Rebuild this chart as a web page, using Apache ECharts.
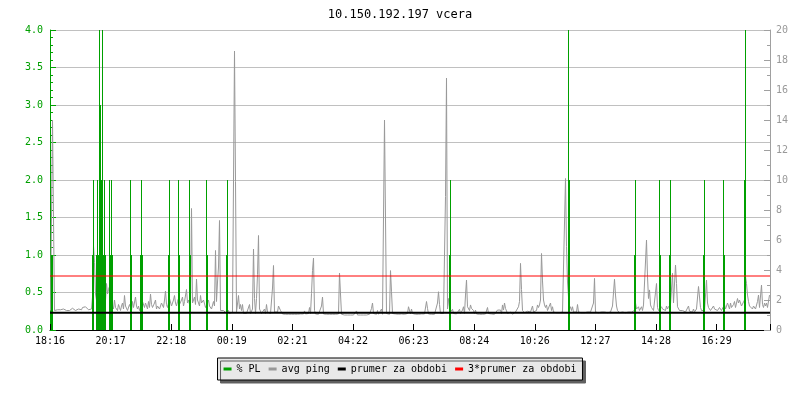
<!DOCTYPE html>
<html><head><meta charset="utf-8">
<script src="https://cdn.jsdelivr.net/npm/echarts@6/dist/echarts.min.js"></script>
<style>html,body{margin:0;padding:0;background:#fff}#c{width:800px;height:400px}</style>
</head><body><div id="c"></div>
<script>
const titleText = '10.150.192.197 vcera';
const timeLabels = ['18:16','20:17','22:18','00:19','02:21','04:22','06:23','08:24','10:26','12:27','14:28','16:29'];
const tickStepMin = 121.2;      // minutes between time labels
const spanMin = 1440;           // whole day shown
const pingStepMin = 2;          // minutes between ping samples
// avg ping in ms (right axis), one value every 2 minutes from 18:16
const pingMs = [
1.3,1.3,14.0,7.4,1.3,1.25,1.3,1.35,1.25,1.3,1.35,1.3,1.3,1.4,1.45,1.3,1.3,1.25,1.35,1.3,
1.3,1.25,1.45,1.4,1.35,1.3,1.3,1.25,1.4,1.3,1.3,1.35,1.5,1.6,1.6,1.55,1.55,1.45,1.35,1.3,
1.3,1.4,2.2,5.6,4.5,2.4,2.0,1.6,1.9,2.4,2.7,1.8,2.2,2.6,2.9,2.0,3.1,2.4,2.7,2.9,
2.8,1.9,1.6,1.4,2.0,1.5,1.4,1.3,1.7,1.5,1.3,1.6,1.8,1.4,2.3,1.6,1.5,1.3,1.4,1.7,
1.5,1.3,1.9,1.5,1.4,2.2,1.6,1.4,1.6,1.3,1.5,2.7,1.9,1.9,1.5,1.8,1.6,1.4,1.9,1.5,
2.4,1.7,1.5,1.4,1.8,2.0,1.4,1.6,1.7,1.4,1.5,1.8,1.9,1.5,2.0,2.6,1.7,1.5,1.8,2.1,
2.0,1.6,1.7,2.0,2.3,1.8,1.6,1.9,2.1,1.7,1.8,2.0,2.2,1.6,1.9,2.0,2.7,1.8,2.0,1.7,
1.9,8.1,1.8,2.0,2.2,1.7,3.4,2.0,1.9,1.6,2.3,1.8,1.8,2.0,2.1,1.5,1.6,1.8,2.0,1.6,
1.7,1.4,1.5,1.9,1.6,5.3,1.9,3.2,4.2,7.3,1.3,1.4,1.2,1.3,1.4,1.2,1.1,1.2,1.3,1.1,
1.1,1.07,1.2,1.1,18.6,9.9,1.2,1.3,2.3,1.4,1.7,1.3,1.7,1.1,1.07,1.07,1.1,1.07,1.2,1.7,
1.1,1.07,1.4,5.4,2.1,1.1,2.1,3.7,6.3,1.4,1.3,1.1,1.2,1.1,1.4,1.1,1.7,1.2,1.2,1.1,
1.1,1.2,2.8,4.3,1.2,1.1,1.1,1.2,1.6,1.6,1.3,1.2,1.07,1.07,1.07,1.05,1.07,1.07,1.05,1.07,
1.07,1.05,1.07,1.07,1.05,1.05,1.07,1.05,1.05,1.07,1.07,1.05,1.07,1.07,1.27,1.07,1.05,1.07,1.1,1.5,
1.1,2.44,3.96,4.8,1.3,1.07,1.05,1.07,1.05,1.07,1.05,1.6,2.2,1.07,1.05,1.07,1.05,1.05,1.07,1.05,
1.05,1.07,1.05,1.05,1.07,1.05,1.07,1.05,1.07,3.8,2.4,1.05,1.02,1.0,1.0,1.02,1.0,1.0,1.02,1.0,
1.0,1.0,1.02,1.0,1.0,1.02,1.27,1.0,1.0,1.02,1.0,1.0,1.02,1.0,1.0,1.02,1.0,1.02,1.0,1.05,
1.05,1.44,1.8,1.1,1.05,1.07,1.05,1.3,1.05,1.07,1.05,1.4,1.05,1.07,14.0,7.4,1.1,1.05,1.07,1.05,
3.96,2.55,1.1,1.05,1.05,1.07,1.0,1.05,1.05,1.07,1.05,1.07,1.05,1.07,1.05,1.07,1.05,1.1,1.55,1.55,
1.07,1.4,1.1,1.05,1.07,1.05,1.07,1.05,1.05,1.07,1.05,1.07,1.1,1.05,1.07,1.05,1.9,1.44,1.07,1.05,
1.07,1.05,1.05,1.07,1.05,1.07,1.1,1.8,2.55,1.7,1.1,1.07,1.05,1.1,1.07,8.9,16.8,1.4,2.1,1.55,
1.2,1.1,1.38,1.1,1.07,1.1,1.07,1.05,1.1,1.38,1.1,1.07,1.33,1.55,1.1,2.33,3.33,1.55,1.55,1.3,
1.67,1.44,1.44,1.3,1.1,1.33,1.07,1.05,1.07,1.05,1.07,1.05,1.05,1.07,1.05,1.07,1.1,1.5,1.1,1.07,
1.05,1.07,1.05,1.07,1.05,1.07,1.1,1.33,1.33,1.3,1.33,1.1,1.67,1.33,1.8,1.44,1.55,1.1,1.07,1.1,
1.2,1.07,1.05,1.07,1.1,1.2,1.07,1.1,1.55,1.9,4.44,2.7,1.3,1.2,1.15,1.2,1.15,1.25,1.2,1.15,
1.2,1.3,1.6,1.2,1.15,1.2,1.3,1.67,1.5,1.67,2.0,5.1,3.27,2.0,1.67,1.5,1.67,1.3,1.2,1.3,
1.8,1.3,1.55,1.2,1.15,1.2,1.15,1.2,1.25,1.15,1.2,1.15,1.2,1.15,1.3,10.1,5.56,3.2,2.2,1.4,
1.55,1.3,1.55,1.2,1.15,1.3,1.2,1.7,1.2,1.15,1.2,1.15,1.2,1.25,1.15,1.2,1.15,1.2,1.15,1.2,
1.2,1.15,1.2,1.8,3.44,1.2,1.15,1.2,1.15,1.2,1.15,1.2,1.25,1.15,1.2,1.15,1.2,1.15,1.25,1.2,
1.2,1.3,1.6,1.6,3.38,2.33,1.6,1.3,1.2,1.15,1.2,1.15,1.2,1.15,1.2,1.15,1.2,1.15,1.2,1.25,
1.33,1.2,1.25,1.2,1.3,1.8,1.4,1.3,1.55,1.3,1.4,1.55,1.3,1.67,1.8,1.67,6.0,3.56,2.1,2.67,
1.67,1.5,1.5,1.3,1.4,1.3,3.1,1.5,1.3,1.4,1.3,1.55,1.4,1.3,1.5,1.3,1.6,1.4,1.55,1.6,
1.7,1.6,3.78,1.8,1.7,4.33,3.1,1.55,1.6,1.3,1.4,1.2,1.3,1.2,1.25,1.2,1.3,1.2,1.6,1.25,
1.25,1.3,1.2,1.4,1.2,1.3,1.4,1.5,2.9,2.2,1.5,1.3,1.3,1.4,1.3,1.4,3.33,1.8,1.5,1.4,
1.3,1.4,1.3,1.6,1.4,1.3,1.4,1.3,1.4,1.5,1.4,1.3,1.3,1.4,1.7,1.4,1.5,1.8,1.6,1.4,
1.8,1.5,1.5,1.7,1.9,1.5,1.6,2.1,1.8,2.0,1.8,1.6,1.5,1.7,2.0,3.56,3.1,2.33,1.9,1.6,
1.6,1.5,1.4,1.6,1.5,1.4,1.3,1.9,2.33,1.5,1.6,3.0,1.7,1.5,1.8,1.6,1.8,1.5,1.6,2.33
];
// packet loss events: minutes after 18:16 and loss in %
const plMinutes = [2,4,84,86,92,94,96,98,100,102,104,106,108,110,118,120,122,124,160,162,180,182,184,236,238,256,258,278,280,312,314,352,354,798,800,1036,1038,1168,1170,1218,1220,1238,1240,1306,1308,1346,1348,1388,1390];
const plPercent = [1.0,1.0,1.0,2.0,1.0,2.0,1.0,4.0,3.0,2.0,4.0,1.0,2.0,1.0,2.0,1.0,2.0,1.0,2.0,1.0,1.0,2.0,1.0,1.0,2.0,2.0,1.0,2.0,1.0,2.0,1.0,1.0,2.0,1.0,2.0,4.0,2.0,1.0,2.0,2.0,1.0,1.0,2.0,1.0,2.0,2.0,1.0,2.0,4.0];
const avgPing = 1.15;
const avgPing3 = 3.6;

const FONT = 'DejaVu Sans Mono';
const GREEN = '#00a000', GREY = '#999999';
const chart = echarts.init(document.getElementById('c'), null, {renderer:'canvas'});
chart.setOption({
  animation: false,
  backgroundColor: '#ffffff',
  title: { text: titleText, left: 'center', top: 4,
    textStyle: { fontFamily: FONT, fontSize: 12, fontWeight: 'normal', color: '#000' } },
  legend: {
    left: 'center', top: 358, icon: 'rect', itemWidth: 8, itemHeight: 3, itemGap: 8,
    padding: [6, 6], backgroundColor: '#e8e8e8', borderColor: '#000', borderWidth: 1,
    shadowColor: '#606060', shadowOffsetX: 3, shadowOffsetY: 3, shadowBlur: 0,
    textStyle: { fontFamily: FONT, fontSize: 10, color: '#000' },
    data: ['% PL', 'avg ping', 'prumer za obdobi', '3*prumer za obdobi']
  },
  grid: { left: 50, right: 30, top: 30, bottom: 70 },
  xAxis: {
    type: 'value', min: 0, max: spanMin, interval: tickStepMin,
    axisLine: { lineStyle: { color: '#000', width: 1 } },
    axisTick: { inside: true, length: 6, lineStyle: { color: '#000' } },
    splitLine: { show: false },
    axisLabel: { color: '#000', fontFamily: FONT, fontSize: 10, margin: 6,
      formatter: v => { const k = Math.round(v / tickStepMin); return (Math.abs(k * tickStepMin - v) < 0.01 && timeLabels[k]) || ''; } }
  },
  yAxis: [{
    type: 'value', min: 0, max: 4, interval: 0.5, position: 'left',
    axisLine: { show: true, lineStyle: { color: GREEN } },
    axisTick: { show: true, inside: true, length: 6, lineStyle: { color: GREEN } },
    minorTick: { show: true, splitNumber: 5, length: 3, lineStyle: { color: GREEN } },
    splitLine: { show: true, lineStyle: { color: '#c0c0c0' } },
    axisLabel: { color: GREEN, fontFamily: FONT, fontSize: 10, margin: 7, formatter: v => v.toFixed(1) }
  }, {
    type: 'value', min: 0, max: 20, interval: 2, position: 'right',
    axisLine: { show: true, lineStyle: { color: '#a0a0a0' } },
    axisTick: { show: true, inside: true, length: 6, lineStyle: { color: '#a0a0a0' } },
    minorTick: { show: true, splitNumber: 2, length: 3, lineStyle: { color: '#a0a0a0' } },
    splitLine: { show: false },
    axisLabel: { color: GREY, fontFamily: FONT, fontSize: 10, margin: 6 }
  }],
  series: [
    { name: 'avg ping', type: 'line', yAxisIndex: 1, z: 2,
      data: pingMs.map((v, i) => [i * pingStepMin + 1, v]),
      symbol: 'none', showSymbol: false, sampling: null,
      lineStyle: { color: GREY, width: 1 }, itemStyle: { color: GREY } },
    { name: '% PL', type: 'custom', yAxisIndex: 0, z: 3,
      data: plMinutes.map((m, i) => [m, plPercent[i]]),
      encode: { x: 0, y: 1 },
      itemStyle: { color: GREEN },
      renderItem: (params, api) => {
        const p0 = api.coord([api.value(0), 0]);
        const p1 = api.coord([api.value(0), api.value(1)]);
        const w = api.size([pingStepMin, 0])[0];
        return { type: 'rect', shape: { x: p0[0], y: p1[1], width: w, height: p0[1] - p1[1] },
          style: { fill: GREEN } };
      } },
    { name: 'prumer za obdobi', type: 'line', yAxisIndex: 1, z: 4,
      data: [[0, avgPing], [spanMin, avgPing]], symbol: 'none',
      lineStyle: { color: '#000', width: 2 }, itemStyle: { color: '#000' } },
    { name: '3*prumer za obdobi', type: 'line', yAxisIndex: 1, z: 4,
      data: [[0, avgPing3], [spanMin, avgPing3]], symbol: 'none',
      lineStyle: { color: '#ff0000', width: 1 }, itemStyle: { color: '#ff0000' } }
  ]
});
</script></body></html>
